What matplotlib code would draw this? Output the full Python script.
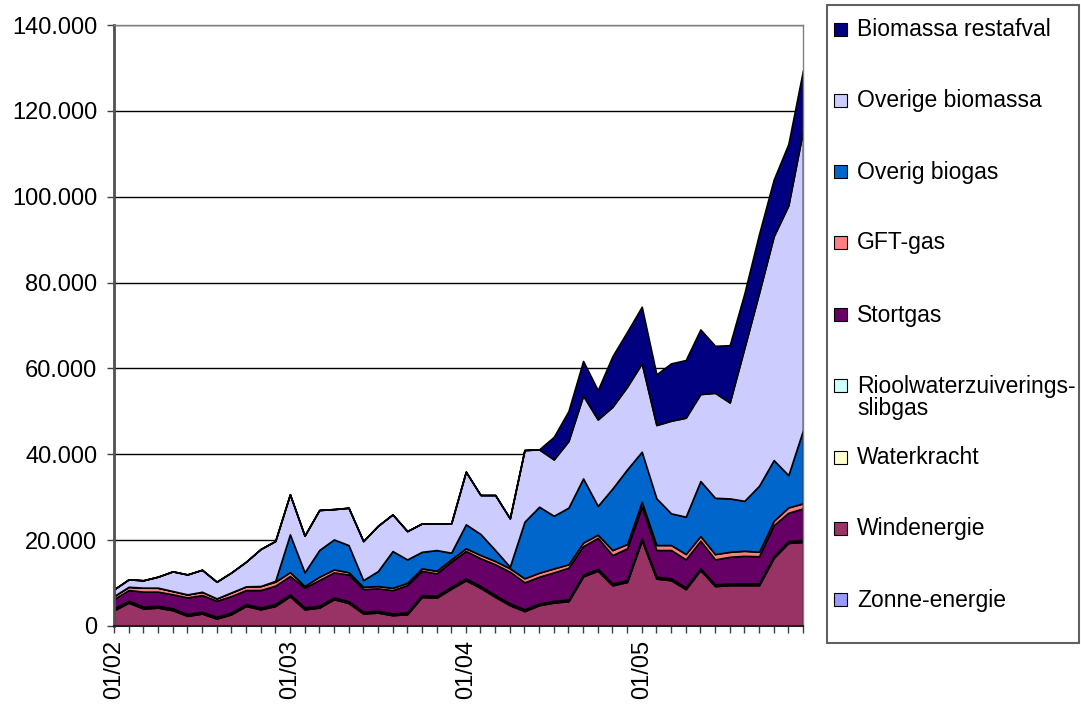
import matplotlib
matplotlib.use('Agg')
import matplotlib.pyplot as plt
from matplotlib.patches import Rectangle
from matplotlib.ticker import FixedLocator, FuncFormatter, MultipleLocator
import numpy as np

plt.rcParams['font.family'] = ['Liberation Sans', 'DejaVu Sans']

# ---- categories (months 01/2002 .. 12/2005) ----
months = [
    '01/02', '02/02', '03/02', '04/02', '05/02', '06/02', '07/02', '08/02', '09/02', '10/02', '11/02', '12/02',
    '01/03', '02/03', '03/03', '04/03', '05/03', '06/03', '07/03', '08/03', '09/03', '10/03', '11/03', '12/03',
    '01/04', '02/04', '03/04', '04/04', '05/04', '06/04', '07/04', '08/04', '09/04', '10/04', '11/04', '12/04',
    '01/05', '02/05', '03/05', '04/05', '05/05', '06/05', '07/05', '08/05', '09/05', '10/05', '11/05', '12/05',
]
shown_labels = ['01/02', '01/03', '01/04', '01/05']

# ---- series values (bottom to top of the stack) ----
zonne_energie = [20, 20, 30, 30, 40, 40, 40, 40, 30, 30, 20, 20,
                 20, 20, 30, 40, 40, 40, 40, 40, 30, 30, 20, 20,
                 20, 30, 30, 40, 50, 50, 50, 50, 40, 30, 20, 20,
                 30, 30, 40, 50, 60, 60, 60, 60, 50, 40, 30, 30]
windenergie = [3640, 5420, 4020, 4250, 3640, 2320, 2860, 1690, 2700, 4640, 3860, 4640,
               6900, 3860, 4250, 6200, 5320, 2860, 3090, 2480, 2710, 6740, 6580, 8670,
               10630, 8840, 6740, 4810, 3410, 4810, 5410, 5720, 11520, 12870, 9460, 10230,
               19950, 11010, 10620, 8530, 12960, 9230, 9460, 9460, 9460, 15820, 19320, 19550]
waterkracht = [220, 200, 230, 200, 180, 150, 140, 130, 140, 170, 210, 230,
               200, 180, 200, 170, 150, 120, 110, 100, 120, 160, 200, 220,
               210, 200, 220, 190, 160, 130, 120, 110, 130, 170, 200, 210,
               220, 200, 210, 190, 160, 140, 120, 110, 130, 180, 210, 220]
rioolwater = [240, 250, 230, 250, 260, 270, 280, 290, 290, 260, 250, 230,
              260, 280, 250, 250, 270, 300, 310, 320, 310, 270, 240, 240,
              250, 250, 230, 250, 270, 290, 290, 300, 290, 260, 240, 250,
              230, 250, 230, 240, 260, 260, 280, 290, 290, 240, 220, 220]
stortgas = [2170, 2480, 3490, 3260, 3260, 3880, 3880, 3730, 3810, 3260, 4040, 4270,
            4270, 4580, 5980, 5820, 6200, 5280, 5210, 5420, 6360, 5660, 5210, 5830,
            6360, 6450, 7150, 7360, 6290, 6200, 6620, 7400, 6600, 7200, 6600, 7390,
            7360, 6210, 6600, 6520, 6430, 5820, 6200, 6430, 6310, 7220, 6590, 7380]
gft_gas = [700, 770, 930, 930, 770, 700, 770, 550, 860, 870, 940, 930,
           900, 400, 780, 700, 550, 530, 540, 540, 530, 560, 610, 550,
           630, 770, 770, 790, 930, 930, 930, 800, 850, 750, 1160, 1000,
           1160, 1160, 1160, 1240, 1090, 1240, 1160, 1170, 1050, 1000, 1260, 1170]
overig_biogas = [0, 0, 0, 0, 0, 0, 0, 0, 0, 0, 0, 200,
                 8800, 3180, 6210, 6990, 6310, 1560, 3490, 8550, 5450, 3860, 4820, 1550,
                 5580, 4890, 2560, 380, 13190, 15370, 12260, 13200, 14950, 6700, 14360, 17390,
                 11650, 10880, 7380, 8690, 12810, 13110, 12440, 11640, 15380, 14140, 7520, 17070]
overige_biomassa = [1560, 1730, 1720, 2570, 4580, 4650, 5130, 3880, 4650, 5730, 8610, 9280,
                    9320, 8540, 9320, 7060, 8700, 9090, 10550, 8540, 6600, 6610, 6210, 6830,
                    12260, 9080, 12810, 11260, 16690, 13360, 13120, 15500, 19300, 20130, 19020, 19250,
                    20580, 17070, 21580, 23060, 20260, 24460, 22350, 35620, 44920, 52140, 62830, 69850]
biomassa_restafval = [0, 0, 0, 0, 0, 0, 0, 0, 0, 0, 0, 0,
                      0, 0, 0, 0, 0, 0, 0, 0, 0, 0, 0, 0,
                      0, 0, 0, 0, 0, 0, 5270, 7000, 8050, 6830, 11800, 12800,
                      13190, 11800, 13360, 13430, 15060, 10950, 13350, 12700, 13700, 13200, 14300, 14000]

series_names = ['Zonne-energie', 'Windenergie', 'Waterkracht', 'Rioolwaterzuiverings-\nslibgas',
                'Stortgas', 'GFT-gas', 'Overig biogas', 'Overige biomassa', 'Biomassa restafval']
series_colors = ['#9999FF', '#993366', '#FFFFCC', '#CCFFFF', '#660066', '#FF8080',
                 '#0066CC', '#CCCCFF', '#000080']
series_values = [zonne_energie, windenergie, waterkracht, rioolwater, stortgas, gft_gas,
                 overig_biogas, overige_biomassa, biomassa_restafval]

W, H = 1081, 706
fig = plt.figure(figsize=(W / 100, H / 100), dpi=100)
ax = fig.add_axes([114 / W, 1 - 626 / H, (803 - 114) / W, (626 - 25) / H])

x = np.arange(len(months))
ax.stackplot(x, *series_values, colors=series_colors, edgecolor='black', linewidth=1.2)

ax.set_xlim(0, len(months) - 1)
ax.set_ylim(0, 140000)
ax.yaxis.set_major_locator(MultipleLocator(20000))
ax.yaxis.set_major_formatter(FuncFormatter(lambda v, p: f"{int(v):,}".replace(',', '.')))
ax.yaxis.grid(True, color='black', linewidth=1)
ax.set_axisbelow(True)

ax.xaxis.set_major_locator(FixedLocator(list(x)))
ax.xaxis.set_major_formatter(FuncFormatter(
    lambda v, p: months[int(round(v))] if months[int(round(v))] in shown_labels else ''))

ax.tick_params(axis='both', direction='out', length=5, width=1, color='#404040',
               labelsize=17, labelcolor='black')
ax.tick_params(axis='y', pad=7)
ax.tick_params(axis='x', pad=5)
for lab in ax.get_xticklabels():
    lab.set_rotation(90)

for side in ['top', 'right']:
    ax.spines[side].set_color('#808080')
    ax.spines[side].set_linewidth(1)
ax.spines['left'].set_color('#505050')
ax.spines['left'].set_linewidth(2)
ax.spines['bottom'].set_color('#202020')
ax.spines['bottom'].set_linewidth(1.5)

# ---- legend (drawn as a boxed list, top entry = top of stack) ----
def fx(px):
    return px / W

def fy(py):
    return 1 - py / H

fig.patches.append(Rectangle((fx(827), fy(643)), fx(1079) - fx(827), fy(5) - fy(643),
                             transform=fig.transFigure, facecolor='white',
                             edgecolor='#606060', linewidth=1.5))
entry_y = [600, 529, 458, 386, 315, 243, 172, 101, 30]
for name, col, yy in zip(series_names, series_colors, entry_y):
    fig.patches.append(Rectangle((fx(834), fy(yy + 6)), fx(13), fy(0) - fy(13),
                                 transform=fig.transFigure, facecolor=col,
                                 edgecolor='black', linewidth=0.8))
    lines = name.split('\n')
    for k, line in enumerate(lines):
        fig.text(fx(857), fy(yy + 22 * k), line, fontsize=16.5, va='center', ha='left')

fig.savefig('out.png', dpi=100)
